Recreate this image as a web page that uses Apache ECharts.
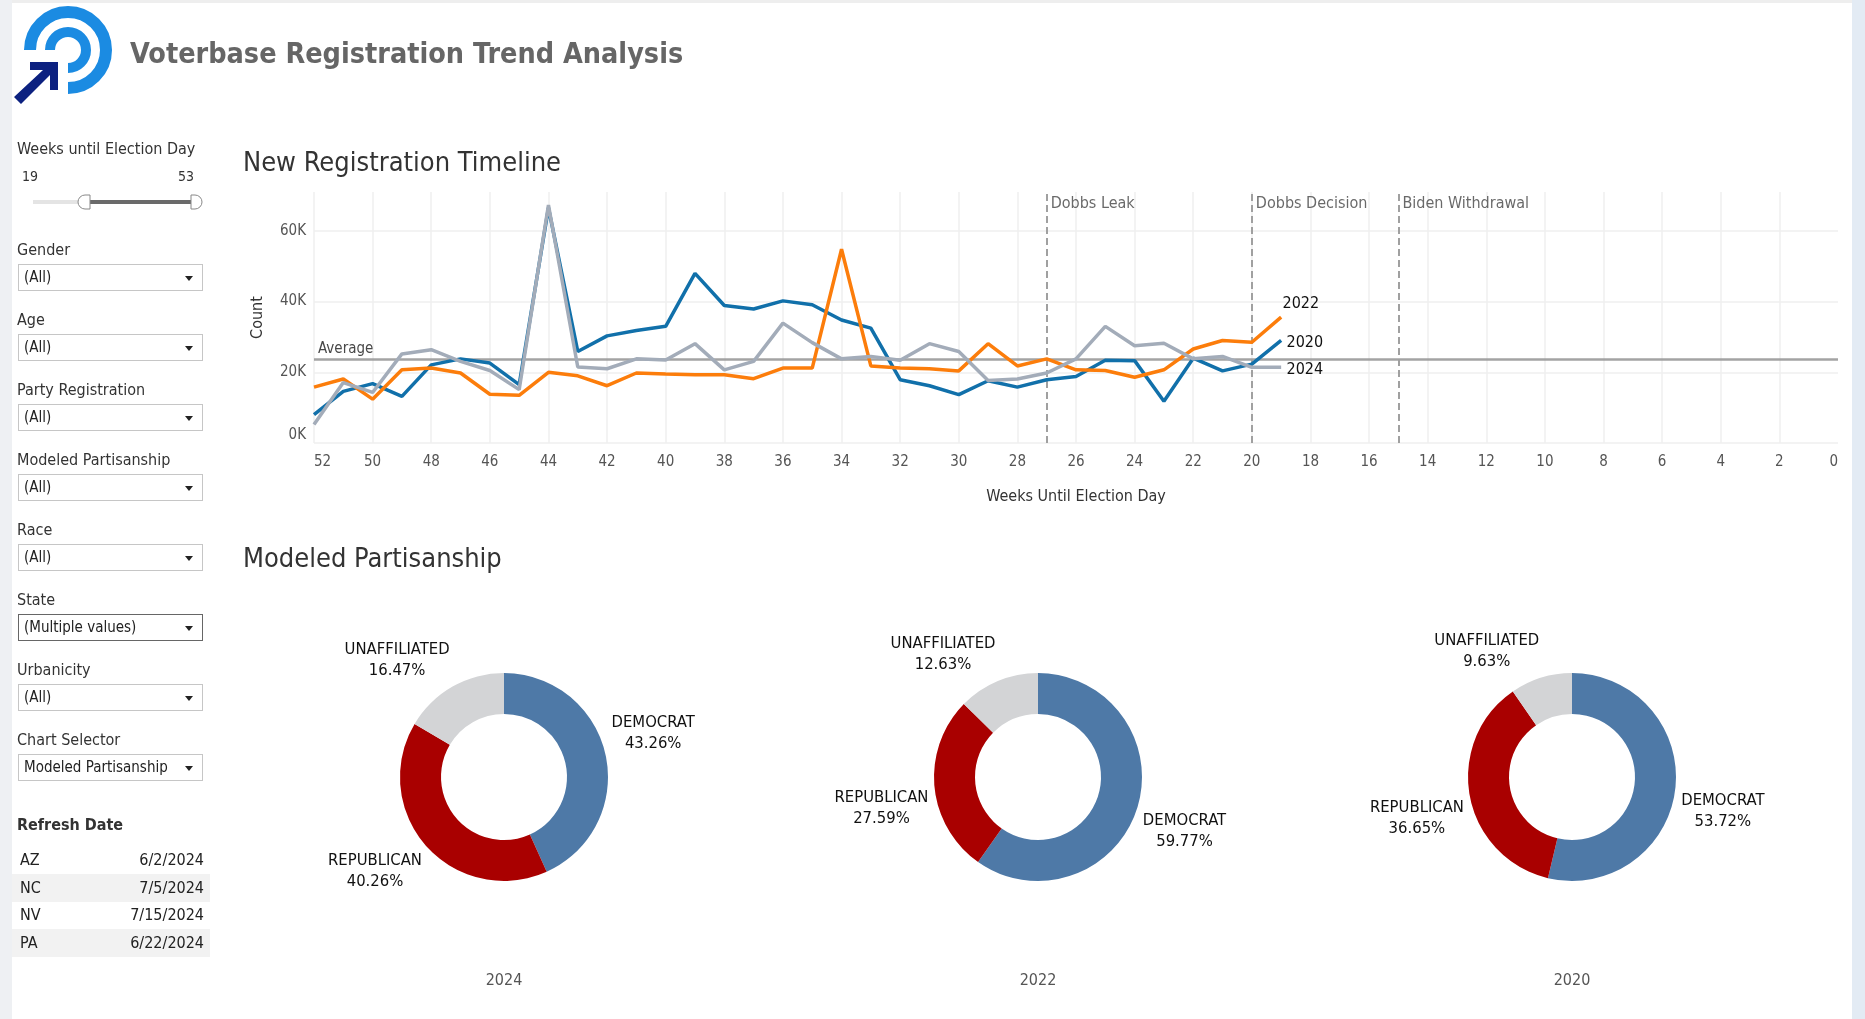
<!DOCTYPE html>
<html>
<head>
<meta charset="utf-8">
<script src="https://cdn.jsdelivr.net/npm/echarts@6/dist/echarts.min.js"></script>
<style>
  html, body { margin: 0; padding: 0; background: #fff; }
  body {
    width: 1865px; height: 1019px; position: relative; overflow: hidden;
    font-family: "DejaVu Sans Condensed", "DejaVu Sans", sans-serif; color: #333;
  }
  #chart { position: absolute; left: 0; top: 0; width: 1865px; height: 1019px; }
  .strip-left { position: absolute; left: 0; top: 0; width: 12px; height: 1019px; background: #eef0f3; }
  .strip-right { position: absolute; right: 0; top: 0; width: 13px; height: 1019px; background: #e3ebf4; }
  .strip-top { position: absolute; left: 0; top: 0; width: 1865px; height: 3px; background: #eeeeee; }
  .head { position: absolute; left: 130px; top: 37px; font-size: 28.5px; font-weight: bold; color: #666; white-space: nowrap; }
  .lbl { position: absolute; left: 17px; font-size: 16px; line-height: 18px; color: #333; white-space: nowrap; }
  .dd {
    position: absolute; left: 18px; width: 185px; height: 27px; box-sizing: border-box;
    border: 1px solid #c6c6c6; background: #fff; font-size: 15px; line-height: 25px;
    padding-left: 5px; color: #222; white-space: nowrap;
  }
  .dd.dark { border-color: #666; }
  .dd:after {
    content: ''; position: absolute; right: 9px; top: 11px;
    border-left: 4px solid transparent; border-right: 4px solid transparent; border-top: 5px solid #222;
  }
  .row { position: absolute; left: 12px; width: 198px; height: 28px; font-size: 16px; line-height: 28px; color: #222; }
  .row.alt { background: #f2f2f2; }
  .row span { position: absolute; }
</style>
</head>
<body>
<div id="chart"></div>
<div class="strip-top"></div>
<div class="strip-left"></div>
<div class="strip-right"></div>

<svg style="position:absolute;left:0;top:0" width="130" height="110">
  <path d="M 30 50 A 38 38 0 1 1 68 88" fill="none" stroke="#1b8be2" stroke-width="12"/>
  <path d="M 50 50 A 18 18 0 1 1 68 68" fill="none" stroke="#1b8be2" stroke-width="10"/>
  <polygon points="30,62 58,62 58,90 50,90 50,75 21,104 14,97 43,70 30,70" fill="#0c2180"/>
</svg>
<div class="head">Voterbase Registration Trend Analysis</div>

<div class="lbl" style="top:140px">Weeks until Election Day</div>
<div class="lbl" style="top:167px;left:22px;font-size:14px">19</div>
<div class="lbl" style="top:167px;left:178px;font-size:14px">53</div>
<svg style="position:absolute;left:28px;top:192px" width="180" height="20">
  <rect x="5" y="8" width="52" height="4" fill="#e4e4e4"/>
  <rect x="57" y="8" width="110" height="4" fill="#6a6a6a"/>
  <path d="M 62 3 L 57 3 A 7 7 0 0 0 57 17 L 62 17 Z" fill="#fff" stroke="#888" stroke-width="1"/>
  <path d="M 163 3 L 167 3 A 7 7 0 0 1 167 17 L 163 17 Z" fill="#fff" stroke="#888" stroke-width="1"/>
</svg>

<div id="filters"></div>

<div class="lbl" style="top:816px;font-weight:bold;color:#333">Refresh Date</div>
<div id="refresh"></div>

<script>
// sidebar filters
const filterNames = ['Gender', 'Age', 'Party Registration', 'Modeled Partisanship', 'Race', 'State', 'Urbanicity', 'Chart Selector'];
const filterValues = ['(All)', '(All)', '(All)', '(All)', '(All)', '(Multiple values)', '(All)', 'Modeled Partisanship'];
const refreshStates = ['AZ', 'NC', 'NV', 'PA'];
const refreshDates = ['6/2/2024', '7/5/2024', '7/15/2024', '6/22/2024'];

let html = '';
filterNames.forEach((n, i) => {
  const top = 241 + i * 70;
  html += '<div class="lbl" style="top:' + top + 'px">' + n + '</div>';
  html += '<div class="dd' + (n === 'State' ? ' dark' : '') + '" style="top:' + (top + 23) + 'px">' + filterValues[i] + '</div>';
});
document.getElementById('filters').innerHTML = html;

html = '';
refreshStates.forEach((s, i) => {
  html += '<div class="row' + (i % 2 ? ' alt' : '') + '" style="top:' + (846 + i * 27.6) + 'px">' +
    '<span style="left:8px">' + s + '</span><span style="right:6px">' + refreshDates[i] + '</span></div>';
});
document.getElementById('refresh').innerHTML = html;

// chart data
const weeks = [52, 51, 50, 49, 48, 47, 46, 45, 44, 43, 42, 41, 40, 39, 38, 37, 36,
  35, 34, 33, 32, 31, 30, 29, 28, 27, 26, 25, 24, 23, 22, 21, 20, 19];
const reg2020 = [8000, 14600, 16800, 13200, 22100, 23800, 22600, 16500, 66500, 25900, 30300, 31800, 33000, 48000, 38900, 37900, 40200,
  39100, 34800, 32500, 17900, 16200, 13700, 17600, 15800, 17900, 18800, 23400, 23300, 11800, 24000, 20400, 22300, 29000];
const reg2022 = [15800, 18100, 12400, 20700, 21200, 19800, 13800, 13500, 20000, 19000, 16200, 19800, 19500, 19300, 19300, 18200, 21200,
  21200, 54800, 21800, 21200, 21000, 20400, 28100, 21800, 23800, 20700, 20500, 18600, 20700, 26600, 29000, 28500, 35600];
const reg2024 = [5200, 17100, 14300, 25200, 26400, 23100, 20500, 15100, 67300, 21500, 21000, 23800, 23500, 28100, 20700, 23100, 33900,
  28400, 23800, 24500, 23400, 28100, 25900, 17700, 18100, 19800, 23800, 33000, 27500, 28200, 23800, 24500, 21400, 21400];
const averageCount = 23600;
const eventNames = ['Dobbs Leak', 'Dobbs Decision', 'Biden Withdrawal'];
const eventWeeks = [27, 20, 15];
// gridline positions (no line at the top or at week 0, like the original)
const countTicks = [0, 20000, 40000, 60000];
const weekTicks = [52, 50, 48, 46, 44, 42, 40, 38, 36, 34, 32, 30, 28, 26, 24, 22, 20, 18, 16, 14, 12, 10, 8, 6, 4, 2];

const parties = ['DEMOCRAT', 'REPUBLICAN', 'UNAFFILIATED'];
const partyColors = ['#4e79a7', '#a90000', '#d3d4d6'];
const donutYears = ['2024', '2022', '2020'];
const share2024 = [43.26, 40.26, 16.47];
const share2022 = [59.77, 27.59, 12.63];
const share2020 = [53.72, 36.65, 9.63];

const FONT = '"DejaVu Sans Condensed", "DejaVu Sans", sans-serif';
const pair = arr => weeks.map((w, i) => [w, arr[i]]);

const donutCx = [504, 1038, 1572];
const donutCy = 777;
const innerR = 63, outerR = 104;

// Tableau-style label placement: the label corner touches a point just outside the ring
function pieLabelLayout(shares, cx) {
  const total = shares.reduce((a, b) => a + b, 0);
  return function (p) {
    let before = 0;
    for (let i = 0; i < p.dataIndex; i++) before += shares[i];
    const mid = (before + shares[p.dataIndex] / 2) / total * 2 * Math.PI;
    const dx = Math.sin(mid), dy = -Math.cos(mid);
    const ax = cx + (outerR + 6) * dx, ay = donutCy + (outerR + 6) * dy;
    const w = p.labelRect.width, h = p.labelRect.height;
    return {
      x: ax + (dx >= 0 ? w / 2 : -w / 2),
      y: ay + (dy >= 0 ? h / 2 : -h / 2),
      align: 'center',
      verticalAlign: 'middle'
    };
  };
}

function donut(shares, i) {
  return {
    type: 'pie',
    center: [donutCx[i], donutCy],
    radius: [innerR, outerR],
    startAngle: 90,
    clockwise: true,
    avoidLabelOverlap: false,
    silent: true,
    label: {
      show: true,
      position: 'outside',
      color: '#111',
      fontFamily: FONT,
      fontSize: 16.5,
      lineHeight: 21,
      formatter: p => p.name + '\n' + p.value.toFixed(2) + '%'
    },
    labelLine: { show: false },
    labelLayout: pieLabelLayout(shares, donutCx[i]),
    data: parties.map((name, k) => ({ name: name, value: shares[k], itemStyle: { color: partyColors[k] } }))
  };
}

// end labels sit right of the last point (x axis is inverted, so shift them across)
function lineSeries(name, arr, color, offset) {
  return {
    name: name,
    type: 'line',
    z: 3,
    data: pair(arr),
    symbol: 'none',
    lineStyle: { width: 3.5, color: color },
    itemStyle: { color: color },
    endLabel: {
      show: true,
      formatter: '{a}',
      color: '#111',
      fontFamily: FONT,
      fontSize: 16,
      distance: 6,
      offset: offset
    },
    emphasis: { disabled: true }
  };
}

const gridLine = { color: '#efefef', type: 'solid', width: 1.5 };

let myChart = echarts.init(document.getElementById('chart'));
myChart.setOption({
  animation: false,
  textStyle: { fontFamily: FONT },
  grid: { left: 314, right: 27, top: 192, bottom: 576, containLabel: false },
  xAxis: {
    type: 'value',
    min: 0,
    max: 52,
    interval: 2,
    inverse: true,
    name: 'Weeks Until Election Day',
    nameLocation: 'middle',
    nameGap: 46,
    nameTextStyle: { color: '#333', fontSize: 16, fontFamily: FONT },
    axisLine: { show: false },
    axisTick: { show: false },
    axisLabel: { color: '#555', fontSize: 15, margin: 12, alignMinLabel: 'right', alignMaxLabel: 'left' },
    splitLine: { show: false }
  },
  yAxis: {
    type: 'value',
    min: 0,
    max: 71000,
    interval: 20000,
    name: 'Count',
    nameLocation: 'middle',
    nameRotate: 90,
    nameGap: 48,
    nameTextStyle: { color: '#333', fontSize: 16, fontFamily: FONT },
    axisLine: { show: false },
    axisTick: { show: false },
    axisLabel: {
      color: '#555', fontSize: 15, margin: 8, showMaxLabel: false,
      verticalAlignMinLabel: 'bottom',
      formatter: v => (v / 1000) + 'K'
    },
    splitLine: { show: false }
  },
  graphic: [
    { type: 'text', x: 243, y: 164, style: { text: 'New Registration Timeline', fill: '#333', font: '27px ' + FONT, verticalAlign: 'middle', textVerticalAlign: 'middle' } },
    { type: 'text', x: 243, y: 560, style: { text: 'Modeled Partisanship', fill: '#333', font: '27px ' + FONT, verticalAlign: 'middle', textVerticalAlign: 'middle' } }
  ].concat(donutYears.map((y, i) => ({
    type: 'text', x: donutCx[i], y: 981,
    style: { text: y, fill: '#555', font: '16px ' + FONT, align: 'center', textAlign: 'center', verticalAlign: 'middle', textVerticalAlign: 'middle' }
  }))),
  series: [
    {
      // gridlines, kept underneath everything else
      type: 'line',
      z: 0,
      data: [],
      silent: true,
      markLine: {
        z: 0,
        symbol: 'none',
        silent: true,
        label: { show: false },
        lineStyle: gridLine,
        data: countTicks.map(v => ({ yAxis: v })).concat(weekTicks.map(w => ({ xAxis: w })))
      }
    },
    {
      // average and event reference lines
      type: 'line',
      z: 1,
      data: [],
      silent: true,
      markLine: {
        z: 1,
        symbol: 'none',
        silent: true,
        data: [
          {
            yAxis: averageCount,
            lineStyle: { color: '#999', type: 'solid', width: 2.5, opacity: 0.9 },
            label: { show: true, position: 'insideEndTop', formatter: 'Average', color: '#333', fontSize: 15, distance: [4, 3] }
          }
        ].concat(eventWeeks.map(w => ({
          xAxis: w,
          lineStyle: { color: '#a0a0a0', type: [7, 4], width: 2 },
          label: { show: false }
        })))
      }
    },
    lineSeries('2020', reg2020, '#1170aa', [48, 2]),
    lineSeries('2022', reg2022, '#fc7d0b', [44, -13]),
    lineSeries('2024', reg2024, '#a3acb9', [48, 2]),
    {
      type: 'scatter',
      z: 3,
      silent: true,
      symbolSize: 0,
      data: eventWeeks.map((w, i) => ({ value: [w, 71000], name: eventNames[i] })),
      label: {
        show: true,
        position: 'right',
        distance: 4,
        offset: [0, 12],
        formatter: '{b}',
        color: '#444',
        fontSize: 16
      }
    },
    donut(share2024, 0),
    donut(share2022, 1),
    donut(share2020, 2)
  ]
});

window.addEventListener('resize', () => {
  myChart.resize();
});
</script>
</body>
</html>
